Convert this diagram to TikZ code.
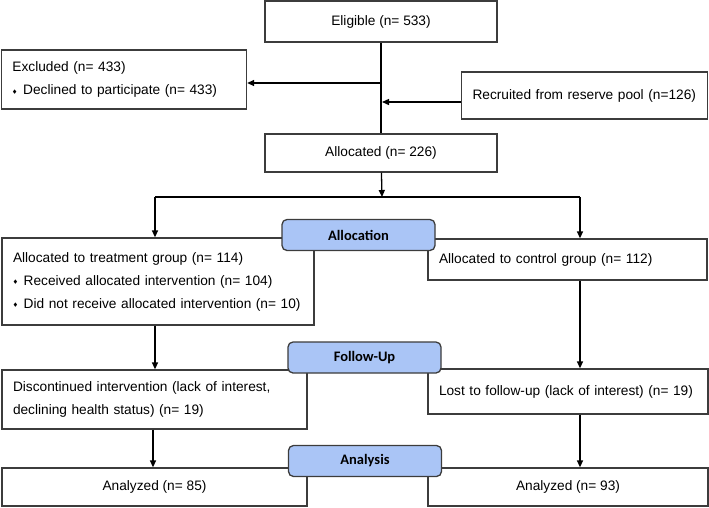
\documentclass[tikz,border=0pt]{standalone}
\usepackage{fontspec}
\setmainfont{Liberation Sans}
\newfontfamily\tabfont{Carlito}
\usepackage{amssymb}
\usepackage{xcolor}
\usetikzlibrary{arrows.meta,calc}

\definecolor{TabBlue}{RGB}{170,197,246}
\definecolor{Edge}{RGB}{60,60,60}
\newcommand{\bul}{\raisebox{1.5pt}{\tiny$\blacklozenge$}\hspace{6pt}}

\begin{document}
\begin{tikzpicture}[x=1pt,y=-1pt,line width=1.3pt,
    >={Triangle[length=7pt,width=6pt]},
    box/.style={draw=Edge,rectangle,inner ysep=0pt,font=\fontsize{13.7}{23}\selectfont},
    lbox/.style={box,inner xsep=11pt,align=left},
    cbox/.style={box,align=center},
    tab/.style={draw=Edge,fill=TabBlue,rounded corners=5pt,inner sep=0pt,
        minimum width=153pt,minimum height=31pt,font=\tabfont\bfseries\fontsize{14.5}{16}\selectfont}]
            \useasboundingbox (0,0) rectangle (709,507);
            % screening
            \node[cbox,minimum width=232pt,minimum height=41pt] (1) at (381,21.5) {Eligible (n= 533)};
            \node[lbox,text width=223pt,minimum height=59pt] (2) at (124,79.5) {Excluded (n= 433)\\\bul Declined to participate (n= 433)};
            \node[lbox,text width=224pt,minimum height=47pt] (3) at (584.5,95.5) {Recruited from reserve pool (n=126)};
            \node[cbox,minimum width=232pt,minimum height=38pt] (4) at (381,153) {Allocated (n= 226)};
            % groups
            \node[lbox,text width=290pt,minimum height=87pt] (5) at (158,281.5) {Allocated to treatment group (n= 114)\\\bul Received allocated intervention (n= 104)\\\bul Did not receive allocated intervention (n= 10)};
            \node[lbox,text width=257pt,minimum height=41pt] (6) at (567.5,259.5) {Allocated to control group (n= 112)};
            \node[lbox,text width=283pt,minimum height=59pt] (7) at (154.5,399.5) {Discontinued intervention (lack of interest,\\declining health status) (n= 19)};
            \node[lbox,text width=258pt,minimum height=45pt] (8) at (568,391.5) {Lost to follow-up (lack of interest) (n= 19)};
            \node[cbox,minimum width=305pt,minimum height=38pt] (9) at (154.5,487) {Analyzed (n= 85)};
            \node[cbox,minimum width=280pt,minimum height=38pt] (10) at (568,487) {Analyzed (n= 93)};
            % connectors
            \coordinate (a) at (382,83);
            \coordinate (b) at (382,102);
            \coordinate (c) at (382,197);
            \coordinate (cl) at (155,197);
            \coordinate (cr) at (580,197);
            \draw (1) -- (4);
            \draw[->] (a) -- (a -| 2.east);
            \draw[->] (3.west |- b) -- (b);
            \draw[->] (4) -- (c);
            \draw (cl) -- (cr);
            \draw[->] (cl) -- (cl |- 5.north);
            \draw[->] (cr) -- (cr |- 6.north);
            \draw[->] (cl |- 5.south) -- (cl |- 7.north);
            \draw[->] (cr |- 6.south) -- (cr |- 8.north);
            \draw[->] ($(cl |- 7.south)+(-2,0)$) coordinate (d) -- (d |- 9.north);
            \draw[->] (cr |- 8.south) -- (cr |- 10.north);
            % stage tabs
            \node[tab] (11) at (358.5,235) {Allocation};
            \node[tab] (12) at (364.5,357.5) {Follow-Up};
            \node[tab] (13) at (365,461) {Analysis};
        \end{tikzpicture}
\end{document}
